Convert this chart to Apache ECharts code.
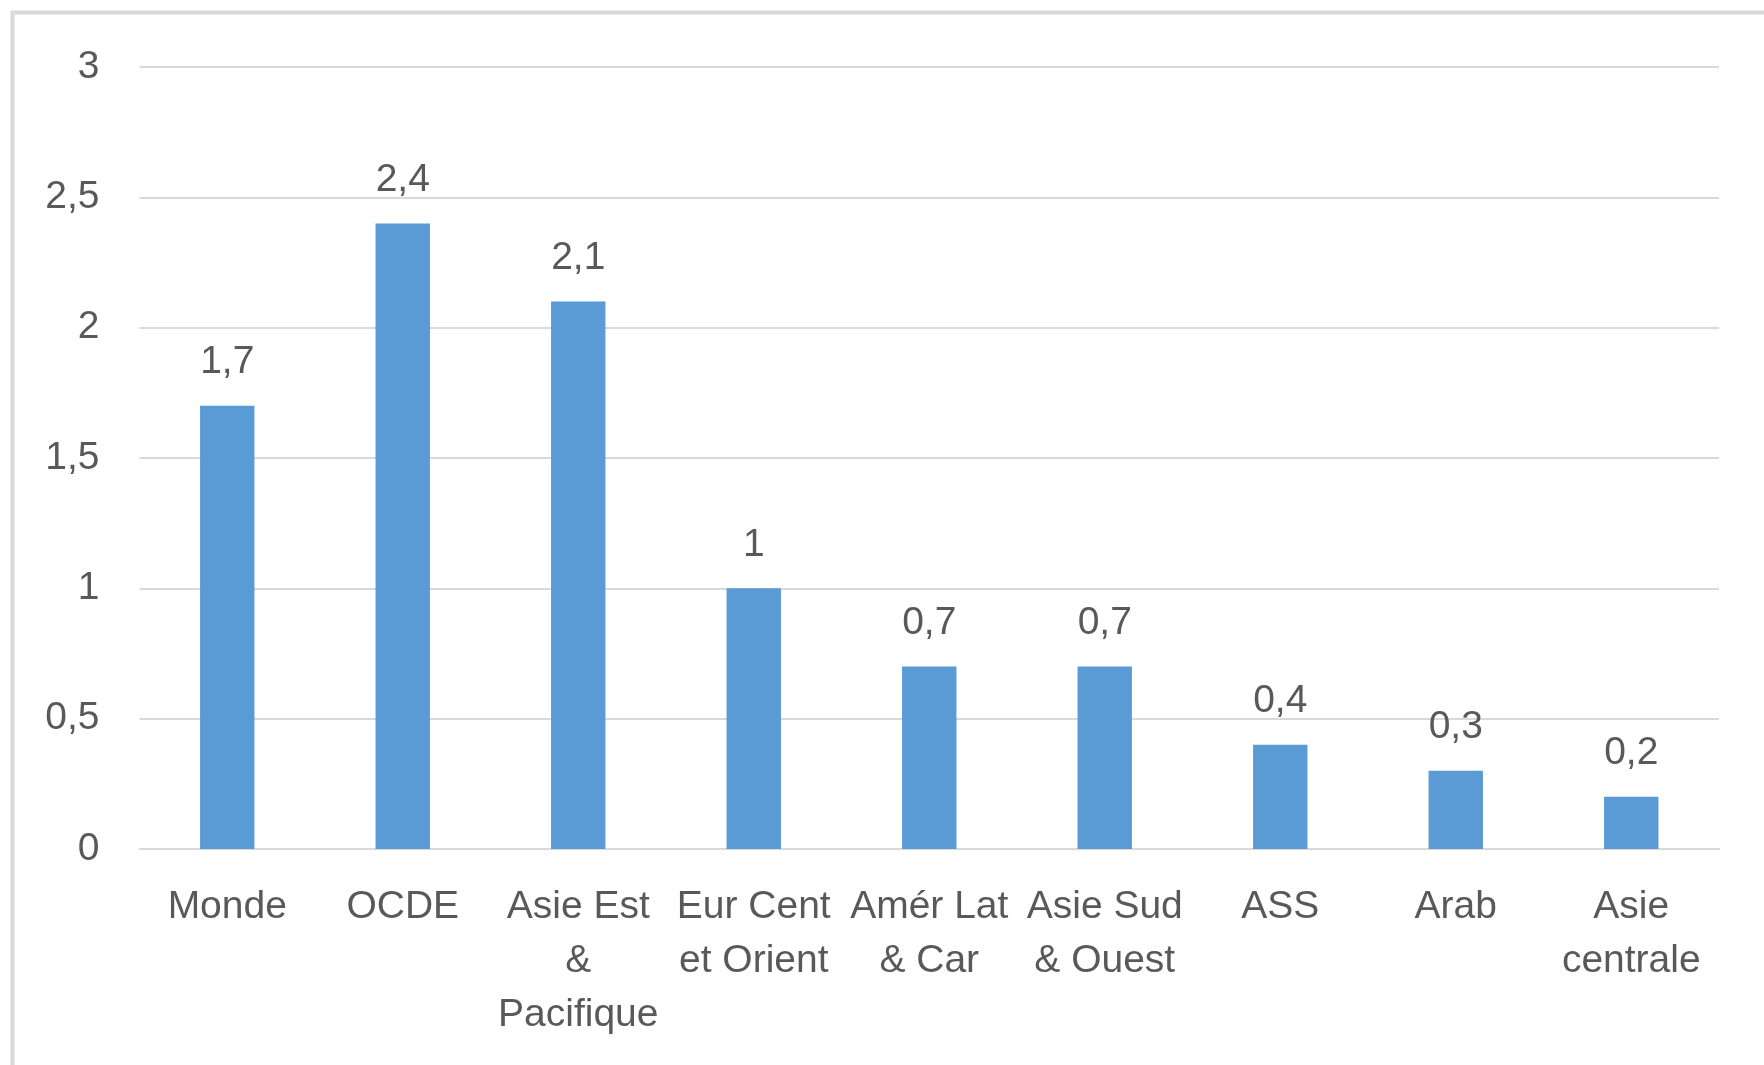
<!DOCTYPE html>
<html>
<head>
<meta charset="utf-8">
<script src="https://cdn.jsdelivr.net/npm/echarts@6/dist/echarts.min.js"></script>
<style>
  html, body { margin: 0; padding: 0; background: #ffffff; }
  #chart { width: 1764px; height: 1065px; }
</style>
</head>
<body>
<div id="chart"></div>
<script>
// Regions (category axis labels, wrapped over several lines)
const categories = [
  'Monde',
  'OCDE',
  'Asie Est\n&\nPacifique',
  'Eur Cent\net Orient',
  'Amér Lat\n& Car',
  'Asie Sud\n& Ouest',
  'ASS',
  'Arab',
  'Asie\ncentrale'
];

// Value per region
const values = [1.7, 2.4, 2.1, 1.0, 0.7, 0.7, 0.4, 0.3, 0.2];

// Value axis range
const yMin = 0;
const yMax = 3;
const yStep = 0.5;

const frText = v => String(v).replace('.', ',');

const FONT = '"Liberation Sans", Arial, sans-serif';
const TEXT = '#595959';
const GRID = '#d9d9d9';

const chart = echarts.init(document.getElementById('chart'), null, { renderer: 'canvas' });

chart.setOption({
  backgroundColor: '#ffffff',
  animation: false,
  textStyle: { fontFamily: FONT },
  graphic: [{
    type: 'rect',
    silent: true,
    shape: { x: 12.5, y: 12.5, width: 2000, height: 2000 },
    style: { fill: 'transparent', stroke: GRID, lineWidth: 4 }
  }],
  grid: { left: 139.5, right: 45, top: 67, bottom: 216, containLabel: false },
  xAxis: {
    type: 'category',
    data: categories,
    axisLine: { show: true, lineStyle: { color: GRID, width: 2 } },
    axisTick: { show: false },
    axisLabel: {
      interval: 0,
      color: TEXT,
      fontFamily: FONT,
      fontSize: 39,
      lineHeight: 54,
      margin: 31,
      align: 'center'
    }
  },
  yAxis: {
    type: 'value',
    min: yMin,
    max: yMax,
    interval: yStep,
    axisLine: { show: false },
    axisTick: { show: false },
    splitLine: { show: true, lineStyle: { color: GRID, width: 2 } },
    axisLabel: {
      color: TEXT,
      fontFamily: FONT,
      fontSize: 39,
      margin: 40,
      padding: [4, 0, 0, 0],
      formatter: v => frText(v)
    }
  },
  series: [{
    type: 'bar',
    data: values,
    barWidth: '31%',
    itemStyle: { color: '#5b9bd5' },
    label: {
      show: true,
      position: 'top',
      distance: 24,
      color: TEXT,
      fontFamily: FONT,
      fontSize: 39,
      formatter: p => frText(p.value)
    }
  }]
});
</script>
</body>
</html>
